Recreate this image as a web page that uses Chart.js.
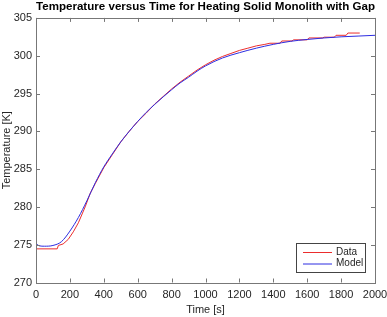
<!DOCTYPE html>
<html>
<head>
<meta charset="utf-8">
<script src="https://cdn.jsdelivr.net/npm/chart.js@4.4.1/dist/chart.umd.min.js"></script>
<style>
  body { margin: 0; background: #fff; }
  #wrap { width: 387px; height: 317px; }
</style>
</head>
<body>
<div id="wrap"><canvas id="tempChart"></canvas></div>
<script>
// values
const modelTime = [0, 20, 50, 100, 150, 200, 250, 300, 350, 400, 450, 500, 550, 600, 650, 700, 750, 800, 850, 900, 950, 1000, 1100, 1200, 1300, 1400, 1500, 1600, 1700, 1800, 1900, 2000];
const modelTemp = [275.2, 274.85, 274.8, 274.9, 275.4, 276.8, 278.6, 280.8, 283.2, 285.3, 287.0, 288.6, 290.0, 291.3, 292.5, 293.55, 294.55, 295.5, 296.4, 297.15, 297.95, 298.65, 299.7, 300.4, 301.0, 301.5, 301.9, 302.15, 302.35, 302.5, 302.6, 302.7];

const dataTime = [0, 125, 132, 160, 190, 220, 250, 290, 320, 350, 400, 450, 500, 550, 600, 650, 700, 750, 800, 850, 900, 950, 1000, 1050, 1100, 1150, 1200, 1250, 1300, 1350, 1380, 1440, 1450, 1510, 1520, 1600, 1610, 1690, 1700, 1760, 1770, 1830, 1840, 1910];
const dataTemp = [274.45, 274.45, 274.9, 275.1, 275.7, 276.7, 277.9, 280.0, 281.8, 283.1, 285.2, 286.9, 288.6, 290.0, 291.3, 292.4, 293.6, 294.6, 295.6, 296.5, 297.3, 298.1, 298.8, 299.4, 299.9, 300.3, 300.7, 301.0, 301.3, 301.5, 301.65, 301.65, 301.95, 301.95, 302.1, 302.1, 302.35, 302.35, 302.45, 302.45, 302.7, 302.7, 303.0, 303.0];

const xTicks = [0, 200, 400, 600, 800, 1000, 1200, 1400, 1600, 1800, 2000];
const yTicks = [270, 275, 280, 285, 290, 295, 300, 305];

const seriesNames = ['Data', 'Model'];
const seriesColors = ['rgb(235,45,45)', 'rgb(45,45,225)'];

const axisColor = '#777';
const textColor = '#262626';
const fontFam = '"Liberation Sans", Arial, sans-serif';

const toPoints = (xs, ys) => xs.map((x, i) => ({ x: x, y: ys[i] }));

// MATLAB-ish box, inward ticks and legend inside the axes
const matlabBox = {
    id: 'matlabBox',
    afterDraw(chart) {
        const { ctx, chartArea: a, scales } = chart;
        ctx.save();
        ctx.strokeStyle = axisColor;
        ctx.lineWidth = 1;
        ctx.strokeRect(Math.round(a.left) + 0.5, Math.round(a.top) + 0.5, Math.round(a.right - a.left), Math.round(a.bottom - a.top));
        ctx.beginPath();
        xTicks.forEach(v => {
            const px = Math.round(scales.x.getPixelForValue(v)) + 0.5;
            ctx.moveTo(px, a.bottom); ctx.lineTo(px, a.bottom - 4);
            ctx.moveTo(px, a.top); ctx.lineTo(px, a.top + 4);
        });
        yTicks.forEach(v => {
            const py = Math.round(scales.y.getPixelForValue(v)) + 0.5;
            ctx.moveTo(a.left, py); ctx.lineTo(a.left + 4, py);
            ctx.moveTo(a.right, py); ctx.lineTo(a.right - 4, py);
        });
        ctx.stroke();

        // legend
        const bx = 296, by = 243, bw = 69, bh = 29;
        ctx.fillStyle = '#fff';
        ctx.fillRect(bx, by, bw, bh);
        ctx.strokeStyle = '#444';
        ctx.strokeRect(bx + 0.5, by + 0.5, bw, bh);
        ctx.font = '10px ' + fontFam;
        ctx.textBaseline = 'middle';
        seriesNames.forEach((name, i) => {
            const y = by + 9 + i * 11.5;
            ctx.strokeStyle = seriesColors[i];
            ctx.beginPath();
            ctx.moveTo(bx + 7, y + 0.5); ctx.lineTo(bx + 36, y + 0.5);
            ctx.stroke();
            ctx.fillStyle = textColor;
            ctx.fillText(name, bx + 40, y);
        });
        ctx.restore();
    }
};

new Chart(document.getElementById('tempChart'), {
    type: 'line',
    data: {
        datasets: [
            { label: seriesNames[0], data: toPoints(dataTime, dataTemp), borderColor: seriesColors[0], borderWidth: 1, pointRadius: 0, tension: 0, order: 1 },
            { label: seriesNames[1], data: toPoints(modelTime, modelTemp), borderColor: seriesColors[1], borderWidth: 1, pointRadius: 0, cubicInterpolationMode: 'monotone', order: 0 }
        ]
    },
    options: {
        responsive: true,
        maintainAspectRatio: false,
        animation: false,
        layout: { padding: { left: 0, right: 0, top: 0, bottom: 0 } },
        plugins: {
            legend: { display: false },
            tooltip: { enabled: false },
            title: {
                display: true,
                fullSize: false,
                text: 'Temperature versus Time for Heating Solid Monolith with Gap',
                color: '#000',
                font: { family: fontFam, size: 11.6, weight: 'bold' },
                padding: { top: 0, bottom: 4 }
            }
        },
        scales: {
            x: {
                type: 'linear',
                min: 0, max: 2000,
                afterBuildTicks: s => { s.ticks = xTicks.map(v => ({ value: v })); },
                afterFit: s => { s.height = 34.5; s.paddingLeft = 0; s.paddingRight = 12; },
                grid: { display: false, drawTicks: false },
                border: { display: false },
                ticks: { color: textColor, font: { family: fontFam, size: 11 }, padding: 6, maxRotation: 0, callback: v => String(v) },
                title: { display: true, text: 'Time [s]', color: textColor, font: { family: fontFam, size: 11 }, padding: { top: 2, bottom: 0 } }
            },
            y: {
                type: 'linear',
                min: 270, max: 305,
                afterBuildTicks: s => { s.ticks = yTicks.map(v => ({ value: v })); },
                afterFit: s => { s.width = 36; },
                grid: { display: false, drawTicks: false },
                border: { display: false },
                ticks: { color: textColor, font: { family: fontFam, size: 11 }, padding: 4, callback: v => String(v) },
                title: { display: true, text: 'Temperature [K]', color: textColor, font: { family: fontFam, size: 11 }, padding: { top: 0, bottom: 0 } }
            }
        }
    },
    plugins: [matlabBox]
});
</script>
</body>
</html>
